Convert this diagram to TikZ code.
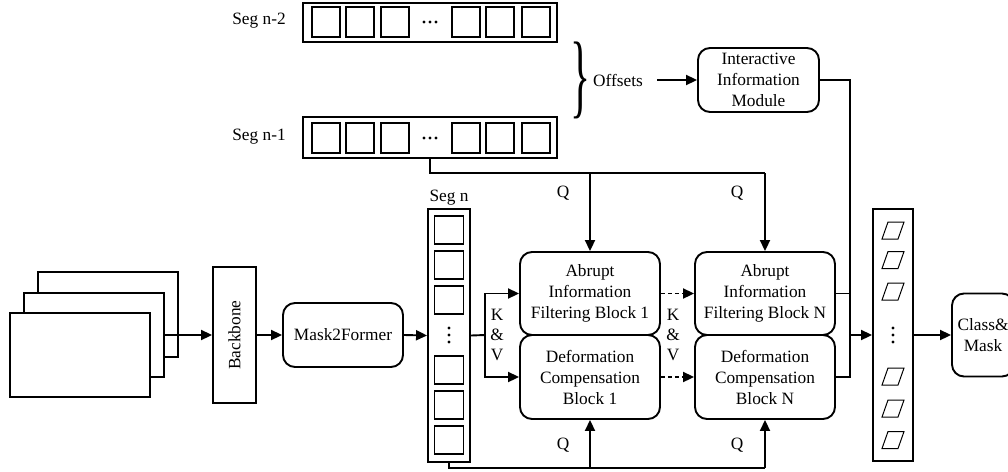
\documentclass[tikz,border=0pt]{standalone}
\usepackage{fontspec}
\setmainfont{Liberation Serif}
\usepackage{graphicx}
\usetikzlibrary{arrows.meta,decorations.pathreplacing,calc}
\begin{document}
\begin{tikzpicture}[x=1pt,y=-1pt,
 every node/.style={font=\fontsize{17.3}{21}\selectfont},
 box/.style={draw, line width=1.9pt, inner sep=0pt, fill=white, align=center},
 rbox/.style={box, rounded corners=12pt},
 cell/.style={draw, line width=1.2pt},
 thincell/.style={draw, line width=1pt},
 conn/.style={line width=1.9pt},
 arr/.style={conn, -{Triangle[length=11pt,width=10pt]}},
 darr/.style={arr, dash pattern=on 4pt off 3pt},
 lbl/.style={inner sep=0pt, align=center},
 dotc/.style={fill=black}
]
\useasboundingbox (0,0) rectangle (1008,471);

% input frames
\node[box, minimum width=140pt, minimum height=85pt] (fback) at (108,314.5) {};
\node[box, minimum width=140pt, minimum height=84pt] (fmid) at (94,335) {};
\node[box, minimum width=140pt, minimum height=84pt] (ffront) at (80,355) {};

% backbone
\node[box, minimum width=43pt, minimum height=136pt] (bb) at (234.5,335) {\rotatebox{90}{Backbone}};
% mask2former
\node[rbox, minimum width=120pt, minimum height=64pt] (m2f) at (343,335) {Mask2Former};

% Seg n column
\node[box, minimum width=42pt, minimum height=253pt] (segn) at (449,335.5) {};
\foreach \yt in {216,251,286,356,391,426}
  \draw[cell] (434.5,\yt) rectangle (463.5,\yt+28);
\foreach \yd in {328,335,342}
  \fill[dotc] (449,\yd) circle (1.6pt);
\node[lbl] (segnl) at (449,198) {Seg n};

% Seg n-2 and Seg n-1 rows
\node[box, minimum width=254pt, minimum height=39pt] (segb) at (430,22.5) {};
\node[box, minimum width=254pt, minimum height=41pt] (sega) at (430,137.5) {};
\foreach \yt in {7,123}{
  \foreach \xl in {312,346,381,452,486,522}
    \draw[cell] (\xl,\yt) rectangle (\xl+28,\yt+30);
  \foreach \xd in {424,430,436}
    \fill[dotc] (\xd,\yt+15) circle (1.6pt);
}
\node[lbl] (segbl) at (259,21) {Seg n-2};
\node[lbl] (segal) at (259,137) {Seg n-1};

% brace, offsets, module
\node[inner sep=0pt] (brace) at (580,80) {\resizebox*{20pt}{77pt}{\}}};
\node[lbl] (offs) at (618,80) {Offsets};
\node[rbox, minimum width=121pt, minimum height=64pt] (iim) at (758.5,80) {Interactive\\Information\\Module};
\draw[arr] ([xshift=14pt]offs.east) -- (iim.west);

% blocks
\node[rbox, minimum width=140pt, minimum height=83pt] (aif1) at (590,293.5) {Abrupt\\Information\\Filtering Block 1};
\node[rbox, minimum width=140pt, minimum height=84pt] (dc1) at (590,377) {Deformation\\Compensation\\Block 1};
\node[rbox, minimum width=140pt, minimum height=83pt] (aifN) at (765,293.5) {Abrupt\\Information\\Filtering Block N};
\node[rbox, minimum width=140pt, minimum height=84pt] (dcN) at (765,377) {Deformation\\Compensation\\Block N};

% output column
\node[box, minimum width=40pt, minimum height=252pt] (out) at (893,335) {};
\foreach \c in {230.5,260,291.5,376.5,408.5,440}
  \draw[thincell] (882,\c+8.5) -- (888,\c-8.5) -- (904,\c-8.5) -- (898,\c+8.5) -- cycle;
\foreach \yd in {328,335,342}
  \fill[dotc] (893,\yd) circle (1.6pt);

% class & mask
\node[rbox, minimum width=62pt, minimum height=83pt] (cm) at (983,335) {Class\&\\Mask};

% coordinates
\coordinate (kv) at (485,335);
\coordinate (qtop) at (0,173);
\coordinate (qbot) at (0,468);
\coordinate (rj) at (850,335);

% connectors
\draw[arr] (fmid.east) -- (bb.west);
\draw[arr] (bb.east) -- (m2f.west);
\draw[arr] (m2f.east) -- (segn.west);
\draw[conn] (segn.east) -- (kv);
\draw[arr] (kv) |- (aif1.west);
\draw[arr] (kv) |- (dc1.west);
\draw[darr] (aif1.east) -- (aifN.west);
\draw[darr] (dc1.east) -- (dcN.west);

\draw[conn] (sega.south) |- (aifN.north |- qtop);
\draw[arr] (aifN.north |- qtop) -- (aifN.north);
\draw[arr] (aif1.north |- qtop) -- (aif1.north);

\draw[conn] (segn.south) |- (dcN.south |- qbot);
\draw[arr] (dcN.south |- qbot) -- (dcN.south);
\draw[arr] (dc1.south |- qbot) -- (dc1.south);

\draw[conn] (iim.east) -| (dcN.east -| rj) -- (dcN.east);
\draw[conn] (aifN.east) -- (aifN.east -| rj);
\draw[arr] (rj) -- (out.west);
\draw[arr] (out.east) -- (cm.west);

% labels
\node[lbl] (q1) at (563,193) {Q};
\node[lbl] (q2) at (737,193) {Q};
\node[lbl] (q3) at (563,445) {Q};
\node[lbl] (q4) at (737,445) {Q};
\node[lbl, font=\fontsize{17.3}{20}\selectfont] (kv1) at (497,335) {K\\\&\\V};
\node[lbl, font=\fontsize{17.3}{20}\selectfont] (kv2) at (673,335) {K\\\&\\V};
\end{tikzpicture}
\end{document}
